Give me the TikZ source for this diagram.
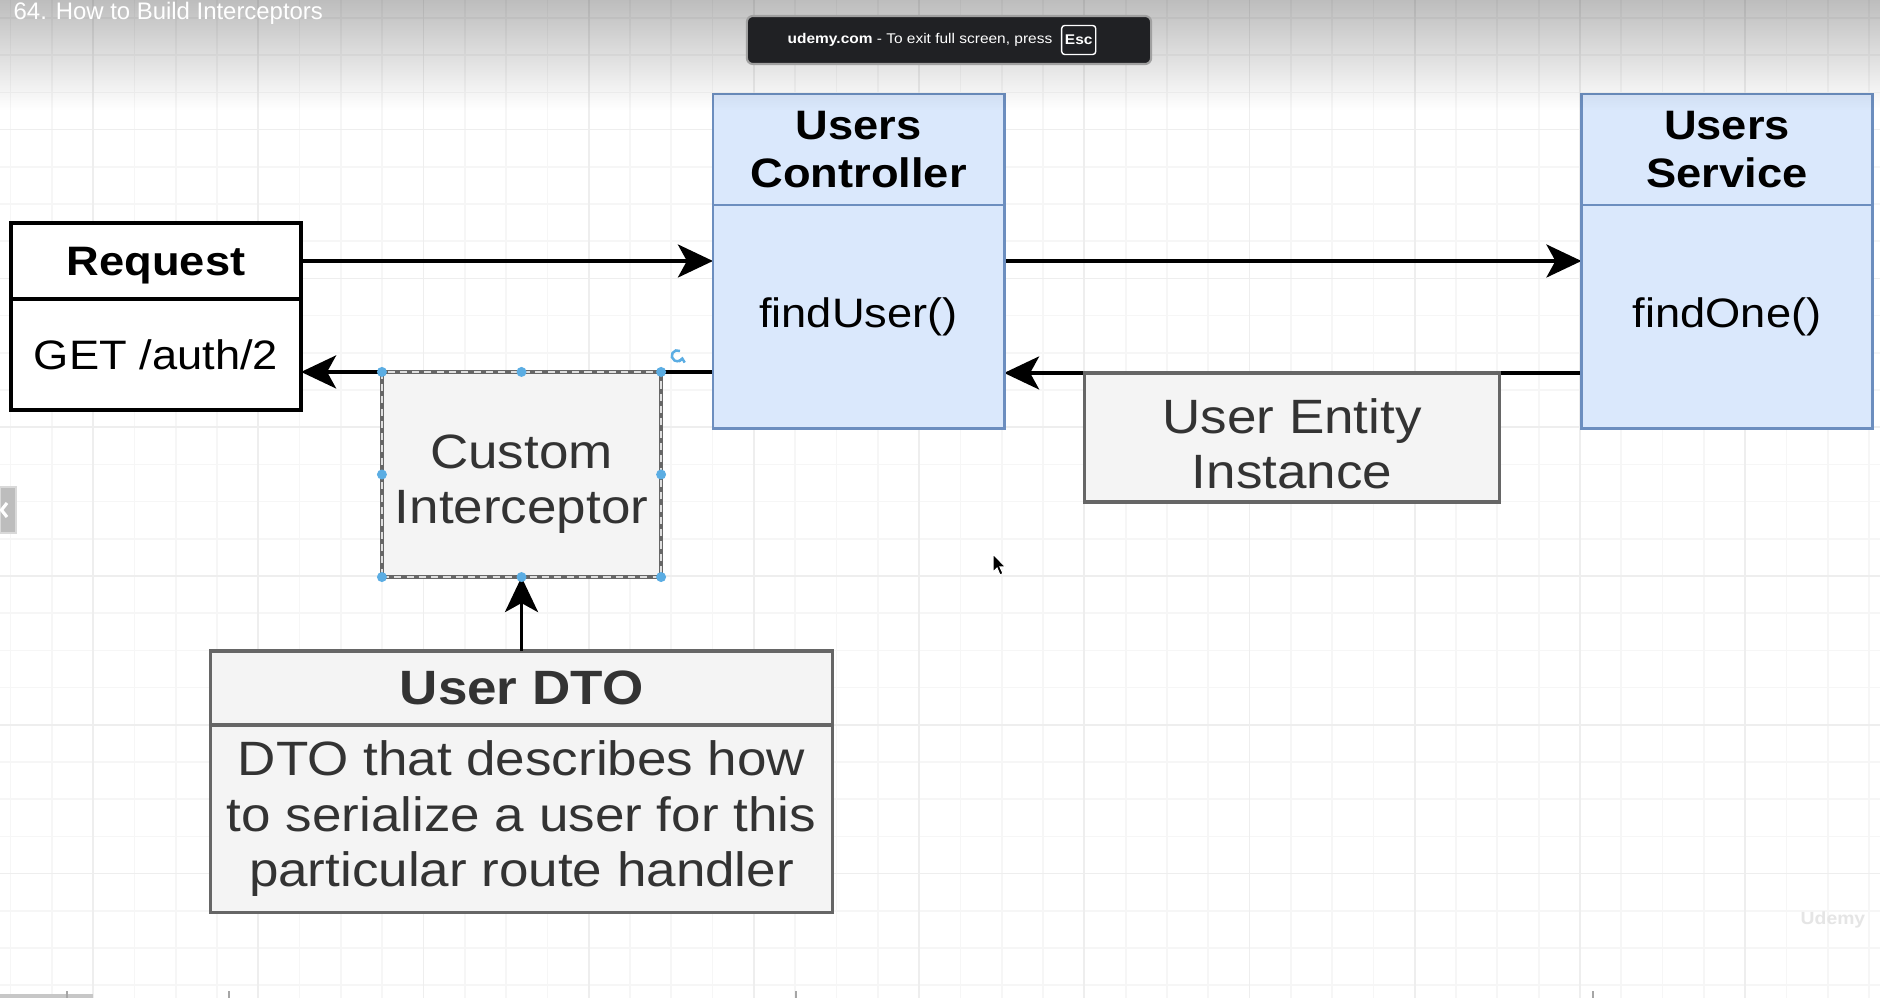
\documentclass[tikz,border=0pt]{standalone}
\usepackage{fontspec}
\setmainfont[FakeStretch=1.1]{Liberation Sans}
\newfontfamily\titlefont{Liberation Sans}
\usetikzlibrary{positioning,arrows.meta,fadings}
\definecolor{boxblue}{HTML}{DAE8FC}
\definecolor{edgeblue}{HTML}{6C8EBF}
\definecolor{boxgrey}{HTML}{F4F4F4}
\definecolor{edgegrey}{HTML}{666666}
\definecolor{textgrey}{HTML}{333333}
\definecolor{gripblue}{HTML}{5BADE3}
\definecolor{toastbg}{HTML}{202124}
\definecolor{toastedge}{HTML}{A0A0A0}
\definecolor{minorgrid}{HTML}{F6F6F6}
\definecolor{majorgrid}{HTML}{EEEEEE}
\newcommand\boxfont{\fontsize{11.7pt}{13.4pt}\selectfont}
\newcommand\notefont{\fontsize{13.7pt}{15.65pt}\selectfont}
\pgfdeclarelayer{grid}
\pgfdeclarelayer{wires}
\pgfsetlayers{grid,wires,main}
\tikzfading[name=fadedown, top color=transparent!0, bottom color=transparent!100]
\begin{document}
\begin{tikzpicture}[x=0.01cm,y=-0.01cm,
	hdr/.style={rectangle,inner sep=0pt,outer sep=0pt,align=center},
	plainblk/.style={hdr,draw=black,fill=white,line width=1.1pt},
	blueblk/.style={hdr,draw=edgeblue,fill=boxblue,line width=0.8pt,minimum width=2.91cm},
	greyblk/.style={hdr,draw=edgegrey,fill=boxgrey,line width=0.9pt,text=textgrey,font=\notefont},
	notetext/.style={hdr,text=textgrey,font=\notefont},
	flow/.style={-{Stealth[length=0.35cm,width=0.33cm,inset=0.09cm]},line width=1pt},
	grip/.style={circle,fill=gripblue,inner sep=0pt,minimum size=0.1cm},
	minorline/.style={minorgrid,line width=0.5pt},
	majorline/.style={majorgrid,line width=0.5pt}]
	\useasboundingbox (0,0) rectangle (1880,998);
	\clip (0,0) rectangle (1880,998);
	% Grid
	\begin{pgfonlayer}{grid}
	\fill[white] (0,0) rectangle (1880,998);
	\foreach \k in {0,...,45} \draw[minorline] ({10.5+41.3*\k},0) -- ({10.5+41.3*\k},998);
	\foreach \k in {0,...,26} \draw[minorline] (0,{18+37.2*\k}) -- (1880,{18+37.2*\k});
	\foreach \k in {0,...,10} \draw[majorline] ({93.1+165.2*\k},0) -- ({93.1+165.2*\k},998);
	\foreach \k in {0,...,5} \draw[majorline] (0,{129.6+148.8*\k}) -- (1880,{129.6+148.8*\k});
	\end{pgfonlayer}
	% Request
	\node[plainblk,minimum width=2.90cm,minimum height=0.76cm,text depth=0pt,font=\boxfont\bfseries] (reqhead) at (156,261) {Request};
	\node[plainblk,minimum width=2.90cm,minimum height=1.11cm,font=\boxfont,anchor=north] (reqbody) at (reqhead.south) {GET /auth/2};
	% Controller and service
	\node[blueblk,minimum height=1.11cm,font=\boxfont\bfseries] (ctrlhead) at (858.5,149.5) {Users\\Controller};
	\node[blueblk,minimum height=2.23cm,font=\boxfont,anchor=north] (ctrlbody) at (ctrlhead.south) {findUser()};
	\node[blueblk,minimum height=1.11cm,font=\boxfont\bfseries,right=5.77cm of ctrlhead] (svchead) {Users\\Service};
	\node[blueblk,minimum height=2.23cm,font=\boxfont,anchor=north] (svcbody) at (svchead.south) {findOne()};
	% Interceptor, entity, DTO
	\node[greyblk,minimum width=2.79cm,minimum height=2.05cm,line width=1pt,
		postaction={draw=white!75!gray,line width=0.4pt,dash pattern=on 2pt off 1.5pt}] (icpt) at (521.5,474.5) {};
	\node[notetext] (icpttext) at ([yshift=-0.1cm]icpt.center) {Custom\\Interceptor};
	\node[greyblk,minimum width=4.14cm,minimum height=1.29cm] (entity) at (1292,437.5) {};
	\node[notetext] (entitytext) at ([yshift=-0.06cm]entity.center) {User Entity\\Instance};
	\node[greyblk,minimum width=6.21cm,minimum height=0.74cm,font=\notefont\bfseries] (dtohead) at (521.5,688) {User DTO};
	\node[greyblk,minimum width=6.21cm,minimum height=1.87cm,anchor=north] (dtobody) at (dtohead.south) {DTO that describes how\\to serialize a user for this\\particular route handler};
	% Arrows
	\begin{pgfonlayer}{wires}
	\draw[flow] (reqhead.east) -- (reqhead.east -| ctrlbody.west);
	\draw[flow] (ctrlbody.east |- reqhead.east) -- (svcbody.west |- reqhead.east);
	\draw[flow] (svcbody.west |- entity.north) -- (ctrlbody.east |- entity.north);
	\draw[flow] (ctrlbody.west |- icpt.north) -- (reqbody.east |- icpt.north);
	\end{pgfonlayer}
	\draw[flow] (dtohead.north) -- (icpt.south);
	% Selection handles
	\foreach \a [count=\i] in {north west,north,north east,west,east,south west,south,south east}
		\node[grip] (grip\i) at (icpt.\a) {};
	\draw[gripblue,line width=0.7pt,-{Straight Barb[length=0.035cm,width=0.06cm]}] (680,351) arc[start angle=60,end angle=350,radius=0.055cm];
	% Cursor
	\filldraw[fill=black,draw=white,line width=0.3pt] (993,554) -- ++(0,18) -- ++(4,-4) -- ++(3,7) -- ++(3,-1.5) -- ++(-3,-6.5) -- ++(5.5,0) -- cycle;
	% Player overlay
	\fill[black,path fading=fadedown,fill opacity=0.26] (0,0) rectangle (1880,110);
	\node[anchor=base west,inner sep=0pt,text=white,font=\titlefont\fontsize{6.8pt}{8pt}\selectfont] (title) at (13,20) {64. How to Build Interceptors};
	\node[rounded corners=0.06cm,fill=toastbg,draw=toastedge,line width=0.6pt,minimum width=4.04cm,minimum height=0.48cm] (toast) at (949,40) {};
	\node[anchor=west,inner sep=0pt,text=white,font=\fontsize{4pt}{5pt}\selectfont] (toasttext) at (787,40) {\textbf{udemy.com}\ -\ To exit full screen, press};
	\node[draw=white,rounded corners=0.03cm,line width=0.4pt,inner sep=0pt,minimum width=0.34cm,minimum height=0.29cm,text=white,font=\fontsize{4pt}{5pt}\selectfont\bfseries,right=0.08cm of toasttext] (esckey) {Esc};
	\node[fill=black!26,draw=black!15,minimum width=0.16cm,minimum height=0.46cm,inner sep=0pt] (sidetab) at (8,510) {};
	\draw[white,line width=0.9pt] (7,503) -- (1.5,510) -- (7,517);
	\node[anchor=west,inner sep=0pt,text=black!10,font=\fontsize{5pt}{6pt}\selectfont\bfseries] (mark) at (1800,920) {Udemy};
	\fill[black!22] (0,994) rectangle (93,998);
	\foreach \t in {66,228,795,1592} \fill[black!35] (\t,991) rectangle ++(2,7);
\end{tikzpicture}
\end{document}
